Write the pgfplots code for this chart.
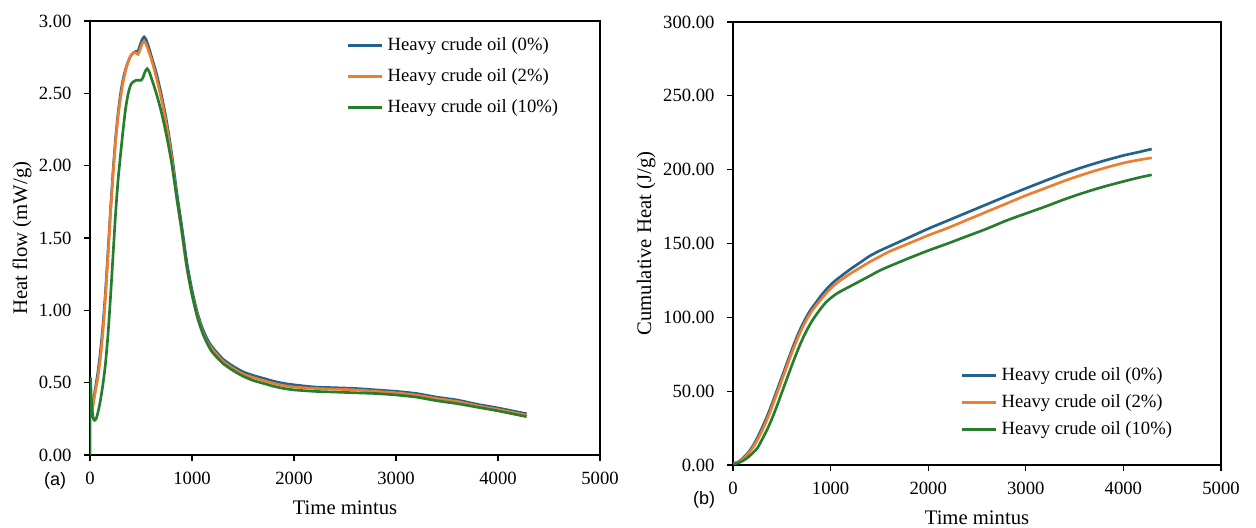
\documentclass[border=0pt]{standalone}
\usepackage{fontspec}
\setmainfont{Liberation Serif}
\newfontfamily\labelsans{Liberation Sans}
\usepackage{pgfplots}
\pgfplotsset{compat=1.18}
\definecolor{cblue}{RGB}{34,98,140}
\definecolor{corange}{RGB}{237,125,49}
\definecolor{cgreen}{RGB}{38,125,45}
\pgfplotsset{
 myaxis/.style={
  scale only axis,
  xmin=0,xmax=5000, xtick={0,1000,2000,3000,4000,5000},
  scaled ticks=false,
  tick align=outside, tick pos=left, major tick length=4.5pt,
  axis line style={line width=0.9pt},
  every tick/.style={line width=0.9pt, black},
  /pgf/number format/assume math mode=true,
  /pgf/number format/1000 sep={},
  tick label style={font=\fontsize{14}{16}\selectfont},
  label style={font=\fontsize{15.5}{18}\selectfont},
  xticklabel style={/pgf/number format/fixed, /pgf/number format/precision=0, yshift=-4.8pt},
  yticklabel style={/pgf/number format/fixed, /pgf/number format/fixed zerofill, /pgf/number format/precision=2, xshift=-5.8pt},
  legend image code/.code={\draw[##1, line width=2pt] (0pt,0pt) -- (26pt,0pt);},
  legend cell align=left,
  every axis plot/.append style={line width=2pt, mark=none},
  clip mode=individual,
 }
}
\begin{document}
\begin{tikzpicture}[x=1pt,y=1pt]
\path[use as bounding box] (0,0) rectangle (942,396);
\begin{axis}[myaxis,
  at={(67.5pt,54.75pt)}, anchor=south west,
  width=382.5pt, height=325.5pt,
  ymin=0, ymax=3, ytick={0,0.5,1,1.5,2,2.5,3},
  xlabel={Time mintus}, ylabel={Heat flow (mW/g)},
  xlabel style={at={(axis description cs:0.5,-0.122)}, anchor=center},
  ylabel style={at={(axis description cs:-0.1333,0.5)}, anchor=center},
  legend style={at={(rel axis cs:0.502,0.965)}, anchor=north west, draw=none, fill=none,
    inner sep=0pt, font=\fontsize{14}{16}\selectfont, row sep=9.25pt, column sep=3pt,
    nodes={inner sep=0pt, text height=10.5pt, text depth=3.5pt}},
]
\addplot[cblue, smooth, tension=0.4] coordinates {
(15,0.30)(30,0.36)(50,0.45)(75,0.56)(100,0.70)(125,0.88)(150,1.11)(175,1.39)(200,1.68)(225,1.95)(250,2.18)(275,2.36)(300,2.50)(325,2.60)(350,2.67)(375,2.72)(400,2.76)(425,2.78)(450,2.79)(470,2.79)(490,2.83)(510,2.87)(530,2.89)(550,2.87)(575,2.82)(600,2.76)(650,2.64)(700,2.49)(750,2.31)(800,2.09)(850,1.82)(900,1.58)(950,1.33)(1000,1.14)(1050,0.99)(1100,0.88)(1150,0.80)(1200,0.745)(1300,0.665)(1400,0.615)(1500,0.575)(1600,0.55)(1700,0.53)(1800,0.51)(1900,0.495)(2000,0.485)(2200,0.47)(2400,0.465)(2600,0.46)(2800,0.45)(3000,0.44)(3200,0.425)(3400,0.40)(3600,0.38)(3800,0.35)(4000,0.325)(4280,0.285)
};
\addlegendentry{Heavy crude oil (0\%)}
\addplot[corange, smooth, tension=0.4] coordinates {
(15,0.29)(30,0.34)(50,0.43)(75,0.53)(100,0.66)(125,0.84)(150,1.08)(175,1.36)(200,1.66)(225,1.93)(250,2.16)(275,2.34)(300,2.47)(325,2.58)(350,2.66)(375,2.72)(400,2.76)(425,2.78)(450,2.78)(470,2.77)(490,2.80)(510,2.84)(530,2.86)(550,2.84)(575,2.79)(600,2.74)(650,2.61)(700,2.46)(750,2.28)(800,2.06)(850,1.78)(900,1.54)(950,1.29)(1000,1.11)(1050,0.97)(1100,0.86)(1150,0.78)(1200,0.73)(1300,0.65)(1400,0.60)(1500,0.56)(1600,0.535)(1700,0.515)(1800,0.495)(1900,0.48)(2000,0.47)(2200,0.46)(2400,0.455)(2600,0.45)(2800,0.44)(3000,0.43)(3200,0.414)(3400,0.39)(3600,0.37)(3800,0.34)(4000,0.315)(4280,0.275)
};
\addlegendentry{Heavy crude oil (2\%)}
\addplot[cgreen, smooth, tension=0.4] coordinates {
(0,0)(3,0.53)(15,0.36)(30,0.26)(45,0.24)(60,0.25)(80,0.30)(100,0.37)(125,0.48)(150,0.62)(175,0.82)(200,1.08)(225,1.37)(250,1.66)(275,1.90)(300,2.08)(325,2.25)(350,2.40)(375,2.50)(400,2.56)(425,2.58)(450,2.59)(475,2.59)(500,2.59)(520,2.61)(540,2.65)(560,2.67)(580,2.65)(600,2.61)(650,2.50)(700,2.37)(750,2.21)(800,2.02)(850,1.78)(900,1.55)(950,1.30)(1000,1.11)(1050,0.96)(1100,0.85)(1150,0.77)(1200,0.71)(1300,0.635)(1400,0.585)(1500,0.545)(1600,0.515)(1700,0.495)(1800,0.475)(1900,0.46)(2000,0.45)(2200,0.44)(2400,0.435)(2600,0.43)(2800,0.425)(3000,0.415)(3200,0.40)(3400,0.375)(3600,0.355)(3800,0.33)(4000,0.305)(4280,0.265)
};
\addlegendentry{Heavy crude oil (10\%)}
\node[font=\labelsans\fontsize{13.5}{16}\selectfont] at (axis description cs:-0.0686,-0.06) {(a)};
\end{axis}
\begin{axis}[myaxis,
  at={(549.75pt,47.25pt)}, anchor=south west,
  width=366pt, height=332.25pt,
  ymin=0, ymax=300, ytick={0,50,100,150,200,250,300},
  xlabel={Time mintus}, ylabel={Cumulative Heat (J/g)},
  xlabel style={at={(axis description cs:0.5,-0.12)}, anchor=center},
  ylabel style={at={(axis description cs:-0.178,0.5)}, anchor=center},
  legend style={at={(rel axis cs:0.465,0.224)}, anchor=north west, draw=none, fill=none,
    inner sep=0pt, font=\fontsize{14}{16}\selectfont, row sep=6.25pt, column sep=3pt,
    nodes={inner sep=0pt, text height=10.5pt, text depth=3.5pt}},
]
\addplot[cblue, smooth] coordinates {
(0,1)(50,2)(100,4.5)(150,8)(200,12.5)(250,18.5)(300,25.5)(350,33)(400,41.5)(450,50.5)(500,59.5)(550,68.5)(600,77.5)(650,86)(700,93.5)(750,100)(800,105.5)(850,110)(900,114.5)(950,118.5)(1000,122)(1050,125)(1100,127.5)(1200,132.5)(1300,137)(1400,141.5)(1500,145)(1600,148)(1800,154)(2000,160)(2200,165.5)(2400,171)(2600,176.5)(2800,182)(3000,187.3)(3200,192.5)(3400,197.5)(3600,202)(3800,206)(4000,209.6)(4150,211.8)(4290,214)
};
\addlegendentry{Heavy crude oil (0\%)}
\addplot[corange, smooth] coordinates {
(0,1)(50,1.8)(100,4)(150,7.3)(200,11.5)(250,17)(300,23.5)(350,31)(400,39.5)(450,48.5)(500,57.5)(550,66.5)(600,75.5)(650,84)(700,91.5)(750,98)(800,103.5)(850,108)(900,112)(950,116)(1000,119.5)(1050,122.5)(1100,125)(1200,129.5)(1300,133.5)(1400,137.5)(1500,141)(1600,144.5)(1800,150)(2000,155.5)(2200,160.5)(2400,166)(2600,171.5)(2800,177)(3000,182.5)(3200,187.5)(3400,192.5)(3600,197)(3800,201)(4000,204.5)(4150,206.5)(4290,208)
};
\addlegendentry{Heavy crude oil (2\%)}
\addplot[cgreen, smooth] coordinates {
(0,0.8)(50,1.3)(100,2.8)(150,5)(200,8)(250,11.5)(300,17.5)(350,24)(400,31.5)(450,40)(500,49)(550,58)(600,67)(650,75.5)(700,83.5)(750,90.5)(800,96.5)(850,101.5)(900,106)(950,110)(1000,113)(1050,115.5)(1100,117.5)(1200,121)(1300,124.5)(1400,128)(1500,131.6)(1600,134.5)(1800,140)(2000,145.2)(2200,150)(2400,155)(2600,160)(2800,165.5)(3000,170.3)(3200,175)(3400,180)(3600,184.5)(3800,188.5)(4000,192)(4150,194.5)(4290,196.5)
};
\addlegendentry{Heavy crude oil (10\%)}
\node[font=\labelsans\fontsize{13.5}{16}\selectfont] at (axis description cs:-0.0594,-0.079) {(b)};
\end{axis}
\end{tikzpicture}
\end{document}
